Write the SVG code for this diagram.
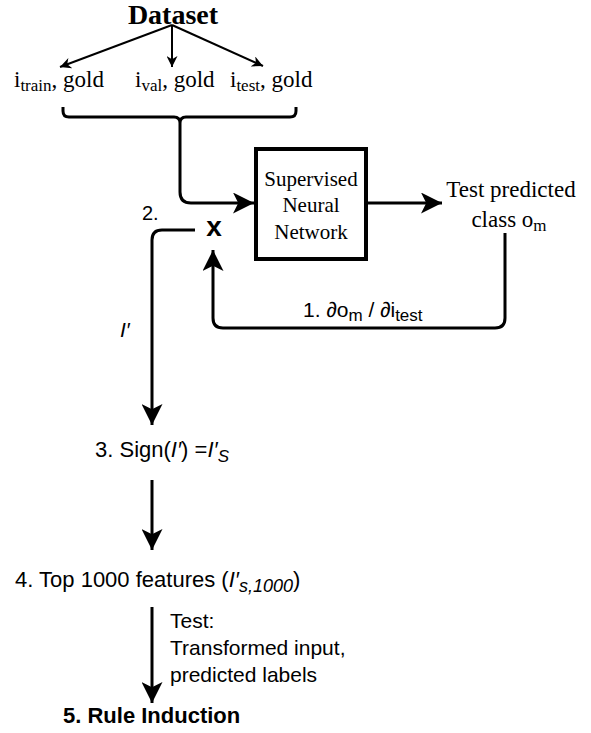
<svg xmlns="http://www.w3.org/2000/svg" width="591" height="733" viewBox="0 0 591 733">
<style>
.serif{font-family:"Liberation Serif","DejaVu Serif",serif;fill:#000}
.sans{font-family:"Liberation Sans","DejaVu Sans",sans-serif;fill:#000}
.ln{fill:none;stroke:#000;stroke-width:2}
.thick{fill:none;stroke:#000;stroke-width:3}
</style>
<defs>
<marker id="ah" viewBox="0 0 10 10" refX="10" refY="5" markerWidth="11" markerHeight="11" markerUnits="userSpaceOnUse" orient="auto"><path d="M0,0 L10,5 L0,10 L3,5 z" fill="#000"/></marker>
<marker id="ahb" viewBox="0 0 10 10" refX="10" refY="5" markerWidth="7" markerHeight="7" markerUnits="strokeWidth" orient="auto"><path d="M0,0 L10,5 L0,10 L2.5,5 z" fill="#000"/></marker>
</defs>
<g id="dataset"><text class="serif" x="173" y="24" font-size="28" font-weight="bold" text-anchor="middle">Dataset</text></g>
<g id="train"><text class="serif" x="14" y="87" font-size="23">i<tspan font-size="17" dy="4">train</tspan><tspan dy="-4">, gold</tspan></text></g>
<g id="val"><text class="serif" x="135" y="87" font-size="23">i<tspan font-size="17" dy="4">val</tspan><tspan dy="-4">, gold</tspan></text></g>
<g id="test"><text class="serif" x="230" y="87" font-size="23">i<tspan font-size="17" dy="4">test</tspan><tspan dy="-4">, gold</tspan></text></g>
<g id="nn"><rect x="256" y="149" width="110" height="110" fill="#fff" stroke="#000" stroke-width="4"/>
<text class="serif" font-size="21" text-anchor="middle"><tspan x="311" y="186">Supervised</tspan><tspan x="311" y="212">Neural</tspan><tspan x="311" y="239">Network</tspan></text></g>
<g id="pred"><text class="serif" font-size="23" text-anchor="middle"><tspan x="511" y="197">Test predicted</tspan><tspan x="509" y="227">class o<tspan font-size="17" dy="4">m</tspan></tspan></text></g>
<g id="mult"><text class="sans" x="214" y="236" font-size="28" font-weight="bold" text-anchor="middle">x</text>
<text class="sans" x="142" y="220" font-size="20">2.</text></g>
<g id="sign"><text class="sans" x="95" y="457" font-size="22">3. Sign(<tspan font-style="italic">I′</tspan>) =<tspan font-style="italic">I′<tspan font-size="17" dy="5">S</tspan></tspan></text></g>
<g id="top"><text class="sans" x="15" y="587" font-size="22">4. Top 1000 features (<tspan font-style="italic">I′<tspan font-size="18" dy="5">s,1000</tspan></tspan><tspan dy="-5">)</tspan></text></g>
<g id="rule"><text class="sans" x="63" y="723" font-size="22" font-weight="bold">5. Rule Induction</text></g>
<g id="connectors">
<path class="ln" d="M172,25 L60,67" marker-end="url(#ah)"/>
<path class="ln" d="M172,25 L172,67" marker-end="url(#ah)"/>
<path class="ln" d="M172,25 L263,66" marker-end="url(#ah)"/>
<path class="thick" d="M63,107 L63,111 Q63,117 69,117 L174,117 Q180,117 180,123 L180,132 M296,107 L296,111 Q296,117 290,117 L186,117 Q180,117 180,123"/>
<path class="thick" d="M180,132 L180,192 Q180,203 191,203 L254,203" marker-end="url(#ahb)"/>
<path class="thick" d="M366,203 L442,203" marker-end="url(#ahb)"/>
<path class="thick" d="M505,233 L505,318 Q505,328 495,328 L223,328 Q213,328 213,318 L213,250" marker-end="url(#ahb)"/>
<path class="thick" d="M195,230 L162,230 Q152,230 152,240 L152,425" marker-end="url(#ahb)"/>
<path class="thick" d="M152,480 L152,550" marker-end="url(#ahb)"/>
<path class="thick" d="M152,607 L152,703" marker-end="url(#ahb)"/>
<text class="sans" x="303" y="317" font-size="21">1. ∂o<tspan font-size="17" dy="4">m</tspan><tspan dy="-4"> / ∂i</tspan><tspan font-size="17" dy="4">test</tspan></text>
<text class="sans" x="120" y="337" font-size="21" font-style="italic">I′</text>
<text class="sans" font-size="21"><tspan x="170" y="628">Test:</tspan><tspan x="170" y="655">Transformed input,</tspan><tspan x="170" y="682">predicted labels</tspan></text>
</g>
</svg>
